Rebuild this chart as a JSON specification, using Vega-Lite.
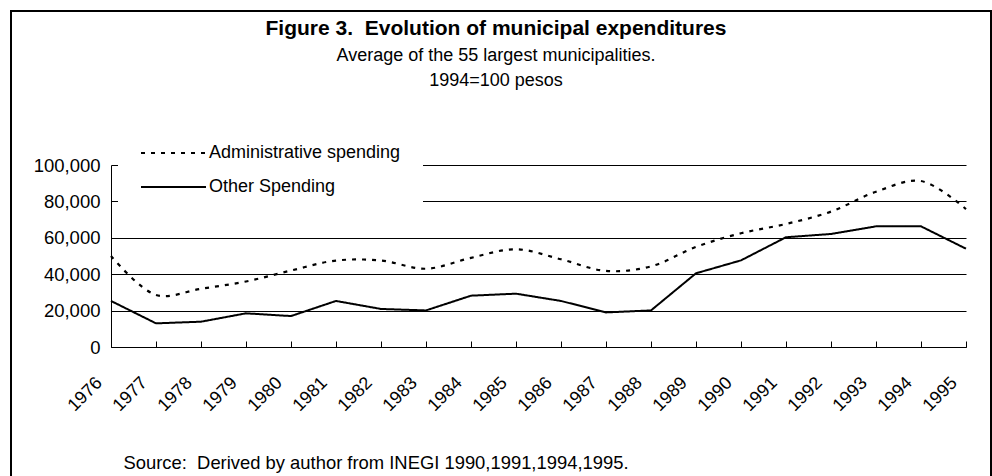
{
  "$schema": "https://vega.github.io/schema/vega-lite/v6.json",
  "width": 980,
  "height": 480,
  "autosize": "none",
  "padding": {"left": 11, "top": 11, "right": 1, "bottom": 0},
  "background": "white",
  "config": {
    "font": "Liberation Sans",
    "view": {"stroke": "black", "strokeWidth": 2}
  },
  "title": {
    "text": "Figure 3.\u00a0 Evolution of municipal expenditures",
    "subtitle": ["Average of the 55 largest municipalities.", "1994=100 pesos"],
    "anchor": "middle",
    "frame": "group",
    "offset": -79,
    "dx": -5,
    "fontSize": 21,
    "fontWeight": "bold",
    "font": "Liberation Sans",
    "color": "black",
    "subtitleFontSize": 18,
    "subtitleFont": "Liberation Sans",
    "subtitleColor": "black",
    "subtitleLineHeight": 25,
    "subtitlePadding": 8
  },
  "data": {
    "values": [
      {"year": 1976, "series": "Administrative spending", "value": 50000},
      {"year": 1977, "series": "Administrative spending", "value": 28600},
      {"year": 1978, "series": "Administrative spending", "value": 32000},
      {"year": 1979, "series": "Administrative spending", "value": 36000},
      {"year": 1980, "series": "Administrative spending", "value": 42000},
      {"year": 1981, "series": "Administrative spending", "value": 47500},
      {"year": 1982, "series": "Administrative spending", "value": 47500},
      {"year": 1983, "series": "Administrative spending", "value": 43000},
      {"year": 1984, "series": "Administrative spending", "value": 49000},
      {"year": 1985, "series": "Administrative spending", "value": 53700},
      {"year": 1986, "series": "Administrative spending", "value": 48200},
      {"year": 1987, "series": "Administrative spending", "value": 41800},
      {"year": 1988, "series": "Administrative spending", "value": 44300},
      {"year": 1989, "series": "Administrative spending", "value": 55000},
      {"year": 1990, "series": "Administrative spending", "value": 62500},
      {"year": 1991, "series": "Administrative spending", "value": 67600},
      {"year": 1992, "series": "Administrative spending", "value": 74400},
      {"year": 1993, "series": "Administrative spending", "value": 85300},
      {"year": 1994, "series": "Administrative spending", "value": 91200},
      {"year": 1995, "series": "Administrative spending", "value": 75800},
      {"year": 1976, "series": "Other Spending", "value": 25300},
      {"year": 1977, "series": "Other Spending", "value": 13000},
      {"year": 1978, "series": "Other Spending", "value": 13900},
      {"year": 1979, "series": "Other Spending", "value": 18500},
      {"year": 1980, "series": "Other Spending", "value": 17000},
      {"year": 1981, "series": "Other Spending", "value": 25300},
      {"year": 1982, "series": "Other Spending", "value": 20900},
      {"year": 1983, "series": "Other Spending", "value": 20100},
      {"year": 1984, "series": "Other Spending", "value": 28200},
      {"year": 1985, "series": "Other Spending", "value": 29300},
      {"year": 1986, "series": "Other Spending", "value": 25300},
      {"year": 1987, "series": "Other Spending", "value": 19000},
      {"year": 1988, "series": "Other Spending", "value": 20100},
      {"year": 1989, "series": "Other Spending", "value": 40500},
      {"year": 1990, "series": "Other Spending", "value": 47600},
      {"year": 1991, "series": "Other Spending", "value": 60300},
      {"year": 1992, "series": "Other Spending", "value": 62100},
      {"year": 1993, "series": "Other Spending", "value": 66300},
      {"year": 1994, "series": "Other Spending", "value": 66300},
      {"year": 1995, "series": "Other Spending", "value": 54000}
    ]
  },
  "encoding": {
    "x": {
      "field": "year",
      "type": "ordinal",
      "scale": {"type": "point", "range": [100, 955], "padding": 0},
      "axis": {
        "title": "Source:\u00a0 Derived by author from INEGI 1990,1991,1994,1995.",
        "offset": -144,
        "labelAngle": -45,
        "labelAlign": "right",
        "labelBaseline": "middle",
        "labelOffset": -12,
        "labelPadding": 39,
        "tickSize": -6,
        "tickColor": "black",
        "domainColor": "black",
        "labelFontSize": 18,
        "labelColor": "black",
        "labelOverlap": false,
        "titleX": 112,
        "titleY": 121,
        "titleAnchor": "start",
        "titleAlign": "left",
        "titleBaseline": "alphabetic",
        "titleFontSize": 18.4,
        "titleFontWeight": "normal",
        "titleColor": "black",
        "grid": false
      }
    },
    "y": {
      "field": "value",
      "type": "quantitative",
      "scale": {"domain": [0, 100000], "range": [336, 154], "nice": false},
      "axis": {
        "title": null,
        "offset": -100,
        "values": [0, 20000, 40000, 60000, 80000, 100000],
        "format": ",d",
        "ticks": false,
        "labelPadding": 11,
        "labelFontSize": 18.5,
        "labelColor": "black",
        "domainColor": "black",
        "grid": true,
        "gridColor": "black",
        "gridOpacity": 1,
        "gridWidth": 1
      }
    },
    "strokeDash": {
      "field": "series",
      "type": "nominal",
      "scale": {"domain": ["Administrative spending", "Other Spending"], "range": [[4, 6], [1, 0]]},
      "legend": {
        "orient": "none",
        "legendX": 107,
        "legendY": 109,
        "title": null,
        "symbolType": "stroke",
        "symbolSize": 4225,
        "symbolStrokeWidth": 2,
        "symbolStrokeColor": "black",
        "labelFontSize": 18,
        "labelColor": "black",
        "labelOffset": 2,
        "labelLimit": 400,
        "fillColor": "white",
        "padding": 22,
        "clipHeight": 22,
        "rowPadding": 12
      }
    }
  },
  "layer": [
    {
      "transform": [{"filter": "datum.series === 'Administrative spending'"}],
      "mark": {"type": "line", "color": "black", "strokeWidth": 2.2, "interpolate": "catmull-rom"}
    },
    {
      "transform": [{"filter": "datum.series === 'Other Spending'"}],
      "mark": {"type": "line", "color": "black", "strokeWidth": 2}
    }
  ]
}
